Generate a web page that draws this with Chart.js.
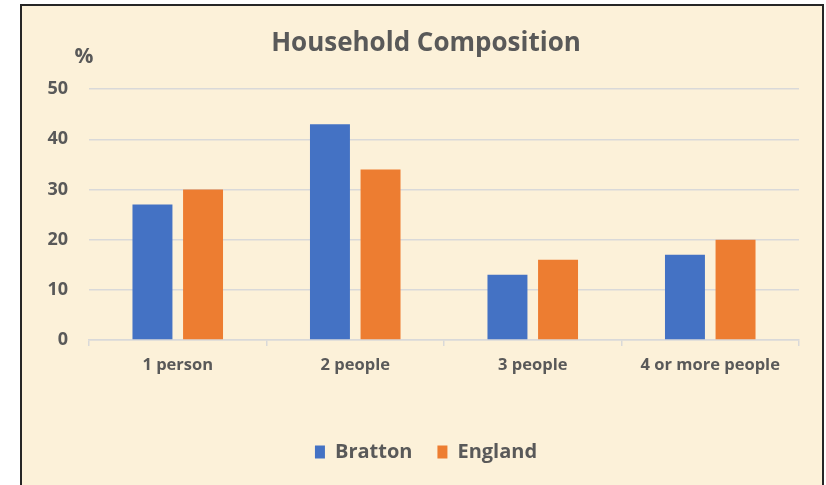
<!DOCTYPE html>
<html>
<head>
<meta charset="utf-8">
<script src="https://cdn.jsdelivr.net/npm/chart.js@4"></script>
<style>
    html, body { margin: 0; padding: 0; background: #ffffff; }
    #frame {
        position: absolute;
        left: 20px; top: 4px;
        width: 800px; height: 500px;
        border: 2px solid #262626;
        background: #fcf1d9;
    }
    #wrap { position: absolute; left: 0; top: 0; width: 826px; height: 485px; }
</style>
</head>
<body>
<div id="frame"></div>
<div id="wrap"><canvas id="chartHogar"></canvas></div>
<script>
const categorias = ['1 person', '2 people', '3 people', '4 or more people'];
const bratton = [27, 43, 13, 17];
const england = [30, 34, 16, 20];
const ticksY = [0, 10, 20, 30, 40, 50];

const GRIS = '#595959';
const LINEA = '#d9d9d9';
const FUENTE = 'Open Sans';

// dibuja el "%" encima de los numeros del eje
const marcaPorcentaje = {
    id: 'marcaPorcentaje',
    afterDraw(chart) {
        const c = chart.ctx;
        c.save();
        c.fillStyle = GRIS;
        c.font = 'bold 21px ' + FUENTE;
        c.textAlign = 'center';
        c.textBaseline = 'middle';
        c.fillText('%', 84, 57);
        c.restore();
    }
};

new Chart(document.getElementById('chartHogar'), {
    type: 'bar',
    data: {
        labels: categorias,
        datasets: [{
            label: 'Bratton',
            data: bratton,
            backgroundColor: '#4472c4',
            categoryPercentage: 0.57,
            barPercentage: 0.79
        }, {
            label: 'England',
            data: england,
            backgroundColor: '#ed7d31',
            categoryPercentage: 0.57,
            barPercentage: 0.79
        }]
    },
    options: {
        responsive: true,
        maintainAspectRatio: false,
        animation: false,
        layout: { padding: { top: 0, right: 0, bottom: 13, left: 26 } },
        plugins: {
            title: {
                display: true,
                text: 'Household Composition',
                color: GRIS,
                font: { family: FUENTE, size: 26, weight: 'bold' },
                padding: { top: 28, bottom: 30 }
            },
            legend: {
                position: 'bottom',
                labels: {
                    color: GRIS,
                    font: { family: FUENTE, size: 20, weight: 'bold' },
                    boxWidth: 10,
                    boxHeight: 13,
                    padding: 25
                }
            },
            tooltip: { enabled: false }
        },
        scales: {
            x: {
                grid: {
                    drawOnChartArea: false,
                    drawTicks: true,
                    tickLength: 6,
                    color: LINEA,
                    lineWidth: 1.5
                },
                border: { color: LINEA, width: 1.5 },
                ticks: {
                    color: GRIS,
                    font: { family: FUENTE, size: 16.5, weight: 'bold' },
                    padding: 9
                },
                afterFit: function (s) { s.height = 77; }
            },
            y: {
                min: 0,
                max: 50,
                afterBuildTicks: function (s) {
                    s.ticks = ticksY.map(v => ({ value: v }));
                },
                grid: { color: LINEA, lineWidth: 1.5, drawTicks: false },
                border: { display: false },
                ticks: {
                    color: GRIS,
                    font: { family: FUENTE, size: 18, weight: 'bold' },
                    padding: 21
                },
                afterFit: function (s) { s.width = 63; }
            },
            // eje vacio a la derecha, solo para reservar margen
            derecha: {
                position: 'right',
                grid: { display: false },
                border: { display: false },
                ticks: { display: false },
                afterFit: function (s) { s.width = 27; }
            }
        }
    },
    plugins: [marcaPorcentaje]
});
</script>
</body>
</html>
